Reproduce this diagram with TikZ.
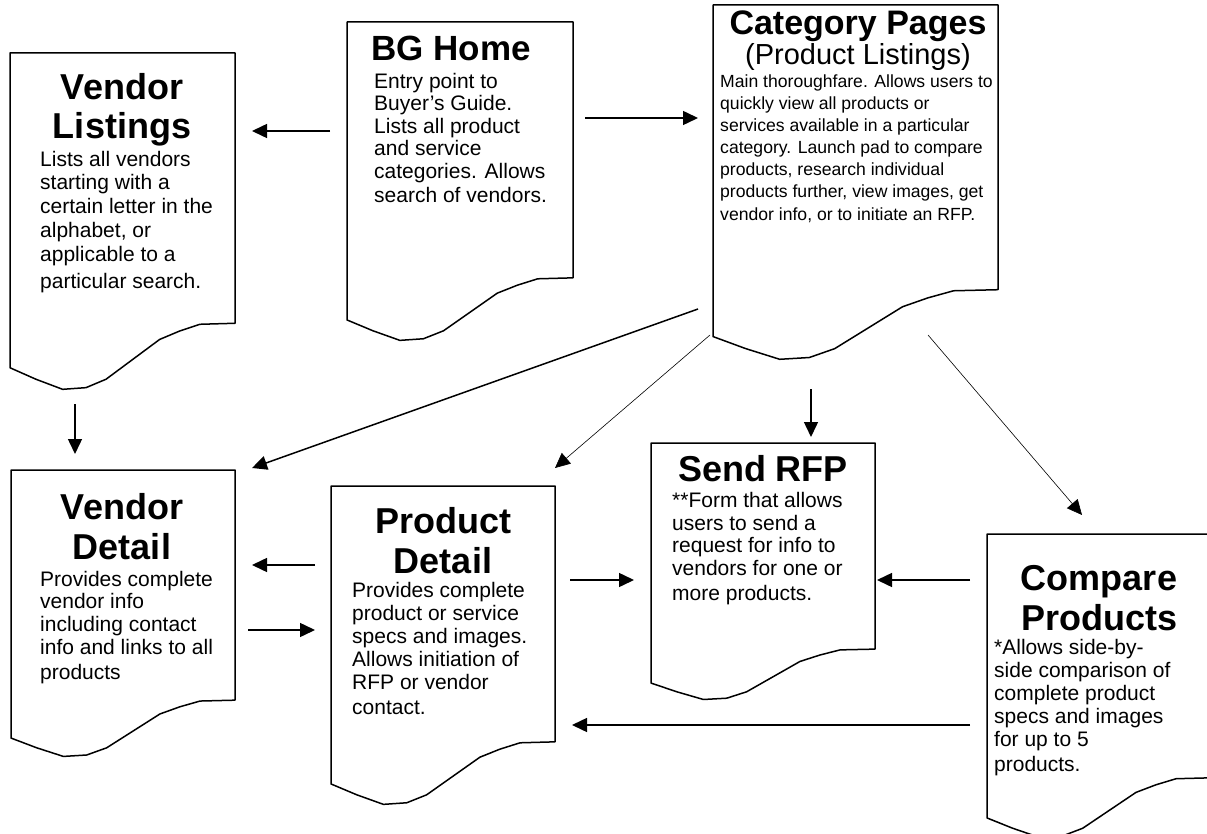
\documentclass[tikz,border=0pt]{standalone}
\usepackage{fontspec}
\setmainfont{Liberation Sans}
\usetikzlibrary{arrows.meta}
\tikzset{
  boxline/.style={draw=black, line width=1.5pt, line join=round},
  body/.style={font=\fontsize{21}{24}\selectfont, inner sep=0pt, anchor=base west},
  smallbody/.style={font=\fontsize{17.6}{22}\selectfont, inner sep=0pt, anchor=base west},
  ttl/.style={font=\fontsize{36}{40}\selectfont\bfseries, inner sep=0pt, anchor=base},
  ttlw/.style={font=\fontsize{35}{40}\selectfont\bfseries, inner sep=0pt, anchor=base west},
  cpttl/.style={font=\fontsize{34}{38}\selectfont\bfseries, inner sep=0pt, anchor=base},
  subttl/.style={font=\fontsize{29}{33}\selectfont, inner sep=0pt, anchor=base},
  arr/.style={line width=1.5pt, -{Triangle[length=15pt,width=14pt]}},
  thinarr/.style={line width=0.6pt, -{Triangle[length=15pt,width=14pt]}},
}
\newcommand{\docbox}[5]{%
  \node[inner sep=0pt,outer sep=0pt,minimum width=#4pt,minimum height=#5pt,anchor=north west] (#1) at (#2,#3) {};
  \draw[boxline] (#2,#3) -- ({#2+#4},#3) -- ({#2+#4},{#3+0.802*#5})
    -- ({#2+0.844*#4},{#3+0.805*#5}) -- ({#2+0.754*#4},{#3+0.825*#5})
    -- ({#2+0.665*#4},{#3+0.850*#5}) -- ({#2+0.546*#4},{#3+0.909*#5})
    -- ({#2+0.427*#4},{#3+0.968*#5}) -- ({#2+0.338*#4},{#3+0.993*#5})
    -- ({#2+0.234*#4},{#3+0.998*#5}) -- ({#2+0.115*#4},{#3+0.968*#5})
    -- (#2,{#3+0.934*#5}) -- cycle;%
}
\newcommand{\txtlines}[4]{% prefix, style, x, list y/text
  \foreach \yy/\tt [count=\i] in {#4} {\node[#2] (#1\i) at (#3,\yy) {\tt};}%
}
\begin{document}
\begin{tikzpicture}[x=1pt,y=-1pt]
\useasboundingbox (0,0) rectangle (1207,834);
\clip (0,0) rectangle (1207,834);
\fill[white] (0,0) rectangle (1207,834);

% boxes
\docbox{vl}{10}{53}{225}{337}
\docbox{bg}{347}{22}{226}{319}
\docbox{cp}{713}{5}{285}{355}
\docbox{vd}{11}{470}{224}{287}
\docbox{pd}{331}{486}{224}{319}
\docbox{sr}{651}{443}{224}{257}
\docbox{cm}{987}{534}{224}{304}

% Vendor Listings
\node[ttl] (vlt1) at (122,100) {Vendor};
\node[ttl] (vlt2) at (122,139) {Listings};
\txtlines{vlb}{body}{40}{167/Lists all vendors, 190/starting with a, 214/certain letter in the, 238/{alphabet, or}, 262/applicable to a, 288/particular search.}

% BG Home
\node[ttlw] (bgt) at (371,61) {BG Home};
\txtlines{bgb}{body}{374}{89/Entry point to, 111/Buyer’s Guide., 134/Lists all product, 156/and service, 179/categories. Allows, 203/search of vendors.}

% Category Pages
\node[cpttl] (cpt) at (858,35) {Category Pages};
\node[subttl] (cps) at (858,65) {(Product Listings)};
\txtlines{cpb}{smallbody}{720}{88/Main thoroughfare. Allows users to, 110/quickly view all products or, 132/services available in a particular, 154/category. Launch pad to compare, 176/{products, research individual}, 198/{products further, view images, get}, 221/{vendor info, or to initiate an RFP.}}

% Vendor Detail
\node[ttl] (vdt1) at (122,519) {Vendor};
\node[ttl] (vdt2) at (122,559) {Detail};
\txtlines{vdb}{body}{40}{586/Provides complete, 608/vendor info, 631/including contact, 654/info and links to all, 679/products}

% Product Detail
\node[ttl] (pdt1) at (443,533) {Product};
\node[ttl] (pdt2) at (443,573) {Detail};
\txtlines{pdb}{body}{352}{597/Provides complete, 620/product or service, 643/specs and images., 666/Allows initiation of, 689/RFP or vendor, 714/contact.}

% Send RFP
\node[ttl] (srt) at (763,481) {Send RFP};
\txtlines{srb}{body}{672}{507/**Form that allows, 530/users to send a, 552/request for info to, 575/vendors for one or, 600/more products.}

% Compare Products
\node[ttl] (cmt1) at (1099,590) {Compare};
\node[ttl] (cmt2) at (1099,630) {Products};
\txtlines{cmb}{body}{994}{654/*Allows side-by-, 677/side comparison of, 700/complete product, 723/specs and images, 746/for up to 5, 771/products.}

% connector end points
\coordinate (a1s) at (330,131); \coordinate (a1e) at (252,131);
\coordinate (a2s) at (585,118); \coordinate (a2e) at (698,118);
\coordinate (a3s) at (75,404);  \coordinate (a3e) at (75,454);
\coordinate (a4s) at (698,309); \coordinate (a4e) at (252,468);
\coordinate (a5s) at (710,335); \coordinate (a5e) at (555,468);
\coordinate (a6s) at (811,389); \coordinate (a6e) at (811,437);
\coordinate (a7s) at (928,335); \coordinate (a7e) at (1082,515);
\coordinate (a8s) at (315,565); \coordinate (a8e) at (252,565);
\coordinate (a9s) at (248,630); \coordinate (a9e) at (315,630);
\coordinate (a10s) at (570,580); \coordinate (a10e) at (634,580);
\coordinate (a11s) at (970,580); \coordinate (a11e) at (877,580);
\coordinate (a12s) at (970,725); \coordinate (a12e) at (572,725);

\draw[arr] (a1s) -- (a1e);
\draw[arr] (a2s) -- (a2e);
\draw[arr] (a3s) -- (a3e);
\draw[arr] (a4s) -- (a4e);
\draw[thinarr] (a5s) -- (a5e);
\draw[arr] (a6s) -- (a6e);
\draw[thinarr] (a7s) -- (a7e);
\draw[arr] (a8s) -- (a8e);
\draw[arr] (a9s) -- (a9e);
\draw[arr] (a10s) -- (a10e);
\draw[arr] (a11s) -- (a11e);
\draw[arr] (a12s) -- (a12e);
\end{tikzpicture}
\end{document}
